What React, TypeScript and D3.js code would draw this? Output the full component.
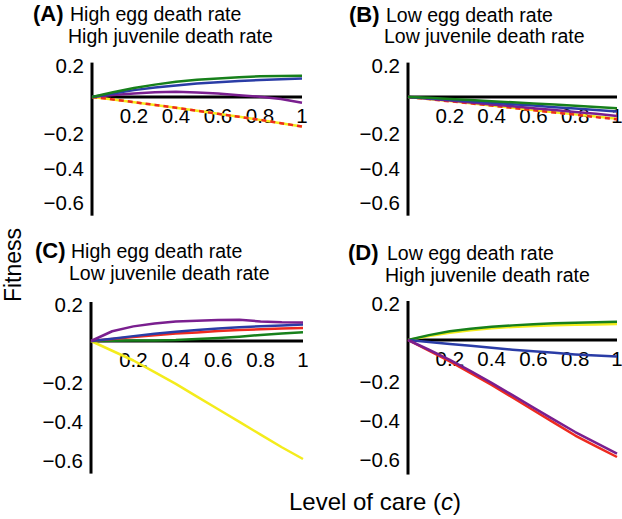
import React from "react";
import * as d3 from "d3";

// Level of care sampled at these points
const careLevels = [0, 0.1, 0.2, 0.3, 0.4, 0.5, 0.6, 0.7, 0.8, 0.9, 1];
const yTickValues = [0.2, -0.2, -0.4, -0.6];
const xTickValues = [0.2, 0.4, 0.6, 0.8, 1];

const panelLetters = ["(A)", "(B)", "(C)", "(D)"];
const eggTitles = ["High egg death rate", "Low egg death rate", "High egg death rate", "Low egg death rate"];
const juvenileTitles = ["High juvenile death rate", "Low juvenile death rate", "Low juvenile death rate", "High juvenile death rate"];

// Panel A: high egg, high juvenile death rate
const aGreen = [0, 0.028, 0.052, 0.072, 0.088, 0.1, 0.108, 0.115, 0.12, 0.122, 0.124];
const aBlue = [0, 0.02, 0.04, 0.055, 0.067, 0.078, 0.086, 0.093, 0.099, 0.103, 0.107];
const aPurple = [0, 0.012, 0.021, 0.027, 0.03, 0.026, 0.02, 0.01, 0.002, -0.012, -0.033];
const aYellow = [0, -0.014, -0.03, -0.046, -0.063, -0.08, -0.098, -0.115, -0.133, -0.152, -0.172];
const aRed = [0, -0.014, -0.03, -0.046, -0.063, -0.08, -0.098, -0.115, -0.133, -0.152, -0.172];

// Panel B: low egg, low juvenile death rate
const bGreen = [0, -0.005, -0.012, -0.018, -0.025, -0.031, -0.038, -0.044, -0.051, -0.058, -0.065];
const bBlue = [0, -0.008, -0.016, -0.025, -0.033, -0.042, -0.05, -0.059, -0.067, -0.076, -0.085];
const bPurple = [0, -0.01, -0.021, -0.032, -0.043, -0.054, -0.065, -0.076, -0.087, -0.098, -0.11];
const bYellow = [0, -0.012, -0.024, -0.036, -0.049, -0.062, -0.075, -0.088, -0.101, -0.114, -0.127];
const bRed = [0, -0.012, -0.025, -0.037, -0.05, -0.063, -0.077, -0.09, -0.103, -0.117, -0.13];

// Panel C: high egg, low juvenile death rate
const cGreen = [0, 0.001, 0.002, 0.003, 0.005, 0.01, 0.015, 0.022, 0.031, 0.038, 0.045];
const cRed = [0, 0.01, 0.02, 0.03, 0.038, 0.044, 0.051, 0.056, 0.06, 0.064, 0.067];
const cBlue = [0, 0.012, 0.025, 0.037, 0.047, 0.056, 0.064, 0.071, 0.076, 0.08, 0.084];
const cPurple = [0, 0.05, 0.075, 0.09, 0.1, 0.104, 0.108, 0.109, 0.1, 0.096, 0.095];
const cYellow = [0, -0.05, -0.1, -0.16, -0.22, -0.285, -0.35, -0.415, -0.48, -0.545, -0.605];

// Panel D: low egg, high juvenile death rate
const dYellow = [0, 0.02, 0.037, 0.05, 0.06, 0.067, 0.072, 0.076, 0.078, 0.08, 0.082];
const dGreen = [0, 0.025, 0.045, 0.058, 0.068, 0.075, 0.081, 0.086, 0.089, 0.091, 0.093];
const dBlue = [0, -0.01, -0.02, -0.03, -0.04, -0.05, -0.058, -0.066, -0.074, -0.08, -0.085];
const dRed = [0, -0.055, -0.11, -0.17, -0.23, -0.295, -0.36, -0.425, -0.49, -0.545, -0.6];
const dPurple = [0, -0.05, -0.102, -0.16, -0.22, -0.283, -0.347, -0.41, -0.472, -0.528, -0.583];

const COLORS = {
  green: "#17801b",
  blue: "#2a3ca6",
  purple: "#7a1f8f",
  red: "#ee2a1f",
  yellow: "#f4ec1c",
};

type S = { values: number[]; color: string; dashed?: boolean };

const panelSeries: S[][] = [
  [
    { values: aYellow, color: COLORS.yellow },
    { values: aRed, color: COLORS.red, dashed: true },
    { values: aPurple, color: COLORS.purple },
    { values: aBlue, color: COLORS.blue },
    { values: aGreen, color: COLORS.green },
  ],
  [
    { values: bYellow, color: COLORS.yellow },
    { values: bRed, color: COLORS.red, dashed: true },
    { values: bPurple, color: COLORS.purple },
    { values: bBlue, color: COLORS.blue },
    { values: bGreen, color: COLORS.green },
  ],
  [
    { values: cYellow, color: COLORS.yellow },
    { values: cGreen, color: COLORS.green },
    { values: cRed, color: COLORS.red },
    { values: cBlue, color: COLORS.blue },
    { values: cPurple, color: COLORS.purple },
  ],
  [
    { values: dYellow, color: COLORS.yellow },
    { values: dGreen, color: COLORS.green },
    { values: dBlue, color: COLORS.blue },
    { values: dRed, color: COLORS.red },
    { values: dPurple, color: COLORS.purple },
  ],
];

// Layout (pixels)
const layout = [
  { x0: 92, x1: 302, zeroY: 97, unit: 172, bottomV: -0.69, letterX: 33, textX: 70, line1Y: 21, line2Y: 43 },
  { x0: 408, x1: 617, zeroY: 97, unit: 172, bottomV: -0.69, letterX: 349, textX: 386, line1Y: 22, line2Y: 43 },
  { x0: 91, x1: 303, zeroY: 341, unit: 195, bottomV: -0.68, letterX: 35, textX: 71, line1Y: 258, line2Y: 280 },
  { x0: 408, x1: 617, zeroY: 340, unit: 195, bottomV: -0.69, letterX: 348, textX: 387, line1Y: 260, line2Y: 282 },
];

const FONT = "'Liberation Sans', Arial, Helvetica, sans-serif";
const FS = 19.5;
const TICK_FS = 20.5;

function Panel({ idx }: { idx: number }) {
  const L = layout[idx];
  const x = d3.scaleLinear().domain([0, 1]).range([L.x0, L.x1]);
  const y = d3.scaleLinear().domain([0, -1]).range([L.zeroY, L.zeroY + L.unit]);
  const line = d3
    .line<number>()
    .x((_, i) => x(careLevels[i]))
    .y((v) => y(v))
    .curve(d3.curveLinear);
  const fmt = (v: number) => (v < 0 ? "\u2212" + d3.format("")(Math.abs(v)) : String(v));
  return (
    <g>
      <text x={L.letterX} y={L.line1Y} fontFamily={FONT} fontSize={22} fontWeight="bold">
        {panelLetters[idx]}
      </text>
      <text x={L.textX} y={L.line1Y} fontFamily={FONT} fontSize={FS}>
        {eggTitles[idx]}
      </text>
      <text x={L.textX - 2} y={L.line2Y} fontFamily={FONT} fontSize={FS}>
        {juvenileTitles[idx]}
      </text>
      {yTickValues.map((v) => (
        <text key={v} x={L.x0 - 8} y={y(v) + 10} textAnchor="end" fontFamily={FONT} fontSize={TICK_FS}>
          {fmt(v)}
        </text>
      ))}
      {xTickValues.map((v) => (
        <text key={v} x={x(v)} y={L.zeroY + 26} textAnchor="middle" fontFamily={FONT} fontSize={TICK_FS}>
          {String(v)}
        </text>
      ))}
      <line x1={L.x0} x2={L.x1} y1={y(0)} y2={y(0)} stroke="#000" strokeWidth={3} />
      <line x1={L.x0} x2={L.x0} y1={y(0.2)} y2={y(L.bottomV)} stroke="#000" strokeWidth={3} />
      {panelSeries[idx].map((s, i) => (
        <path
          key={i}
          d={line(s.values) || ""}
          fill="none"
          stroke={s.color}
          strokeWidth={2.5}
          strokeDasharray={s.dashed ? "5,4" : undefined}
          strokeLinejoin="round"
        />
      ))}
    </g>
  );
}

export default function App() {
  return (
    <svg
      width={622}
      height={519}
      viewBox="0 0 622 519"
      style={{ position: "absolute", left: 0, top: 0, display: "block", background: "#fff" }}
    >
      <rect width={622} height={519} fill="#fff" />
      {[0, 1, 2, 3].map((i) => (
        <Panel key={i} idx={i} />
      ))}
      <text
        transform="translate(21,265) rotate(-90)"
        textAnchor="middle"
        fontFamily={FONT}
        fontSize={23}
      >
        Fitness
      </text>
      <text x={375} y={510} textAnchor="middle" fontFamily={FONT} fontSize={24}>
        Level of care (<tspan fontStyle="italic">c</tspan>)
      </text>
    </svg>
  );
}
